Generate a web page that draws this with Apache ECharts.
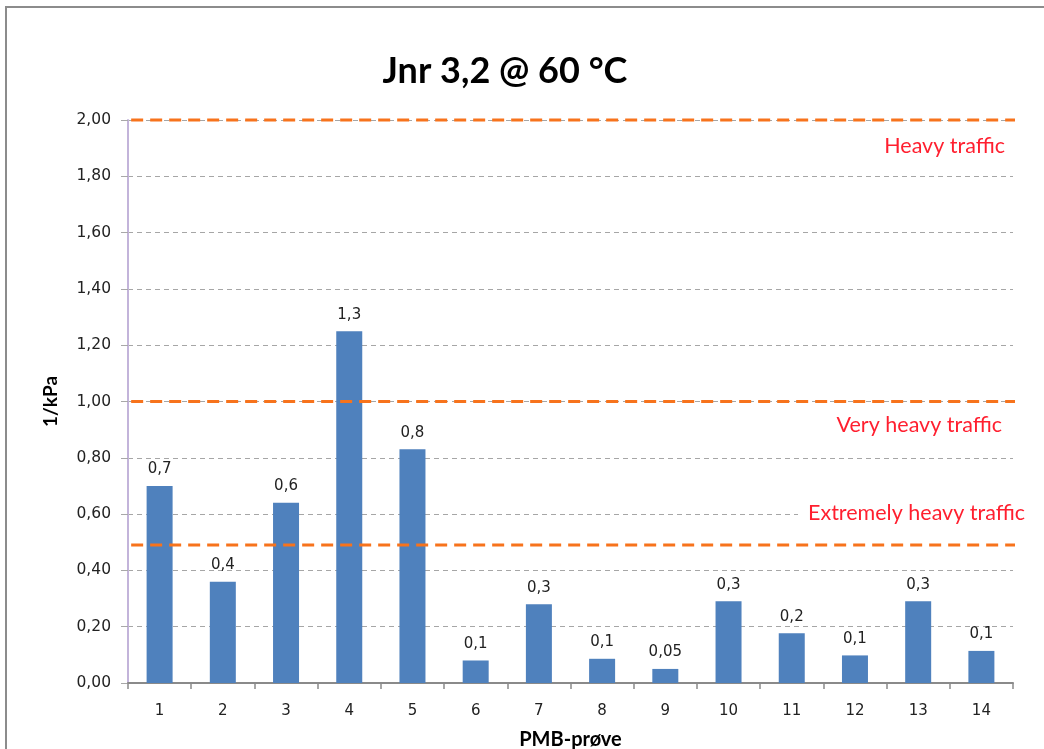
<!DOCTYPE html>
<html>
<head>
<meta charset="utf-8">
<style>
  html, body { margin: 0; padding: 0; background: #fff; }
  #chart { width: 1044px; height: 749px; }
</style>
<script src="https://cdn.jsdelivr.net/npm/echarts@6/dist/echarts.min.js"></script>
</head>
<body>
<div id="chart"></div>
<script>
// PMB sample numbers on the category axis
const samples = ['1', '2', '3', '4', '5', '6', '7', '8', '9', '10', '11', '12', '13', '14'];
// Jnr 3.2 at 60 °C, 1/kPa
const jnrValues = [0.70, 0.36, 0.64, 1.25, 0.83, 0.08, 0.28, 0.086, 0.05, 0.29, 0.177, 0.098, 0.29, 0.114];
// traffic class limits, 1/kPa
const limitValues = [2.0, 1.0, 0.49];
const limitNames = ['Heavy traffic', 'Very heavy traffic', 'Extremely heavy traffic'];
// value axis ticks
const yTicks = [0, 0.2, 0.4, 0.6, 0.8, 1.0, 1.2, 1.4, 1.6, 1.8, 2.0];

const comma = s => s.replace('.', ',');
const barLabel = v => comma(v < 0.06 ? v.toFixed(2) : v.toFixed(1));

const chart = echarts.init(document.getElementById('chart'), null, { renderer: 'canvas' });

const sansUI = '"DejaVu Sans", Verdana, sans-serif';
const sansTitle = 'Lato, "Open Sans", sans-serif';
const orange = '#f7731c';

// one dashed line per traffic class limit, on a hidden numeric x axis
const limitSeries = limitValues.map((v, i) => ({
  name: limitNames[i],
  type: 'line',
  xAxisIndex: 1,
  yAxisIndex: 0,
  data: [[0.05, v], [14.14, v]],
  symbol: 'none',
  clip: false,
  silent: true,
  z: 5,
  lineStyle: { color: orange, width: 3, type: [12, 7] }
}));

// class names drawn at the right end of the plot
const labelPlaces = [
  { x: 1005, y: 146 },
  { x: 1002, y: 425 },
  { x: 1025, y: 513 }
];

chart.setOption({
  animation: false,
  backgroundColor: '#ffffff',
  title: {
    text: 'Jnr 3,2 @ 60 °C',
    left: 500,
    textAlign: 'center',
    top: 48,
    textStyle: { fontFamily: sansTitle, fontSize: 36, fontWeight: 'bold', color: '#000' }
  },
  grid: { left: 128, right: 31, top: 120, bottom: 66, containLabel: false, outerBoundsMode: 'none' },
  xAxis: [
    {
      type: 'category',
      data: samples,
      name: 'PMB-prøve',
      nameLocation: 'middle',
      nameGap: 47,
      nameTextStyle: { fontFamily: sansTitle, fontSize: 20, fontWeight: 'bold', color: '#000' },
      axisLine: { lineStyle: { color: '#8a8a8a', width: 2 } },
      axisTick: { show: true, length: 6, lineStyle: { color: '#8a8a8a', width: 1.5 } },
      axisLabel: { fontFamily: sansUI, fontSize: 15, color: '#222', margin: 21 },
      splitLine: { show: false }
    },
    {
      type: 'value',
      min: 0,
      max: 14,
      show: false
    }
  ],
  yAxis: {
    type: 'value',
    min: 0,
    max: 2,
    interval: 0.2,
    name: '1/kPa',
    nameLocation: 'middle',
    nameGap: 68,
    nameRotate: 90,
    nameTextStyle: { fontFamily: sansTitle, fontSize: 19, fontWeight: 'bold', color: '#000' },
    axisLine: { show: true, lineStyle: { color: '#c3b4da', width: 2 } },
    axisTick: { show: true, length: 7, lineStyle: { color: '#a8a8a8', width: 1 } },
    axisLabel: {
      fontFamily: sansUI, fontSize: 15.5, color: '#222', margin: 17,
      formatter: v => comma(v.toFixed(2))
    },
    splitLine: { show: true, lineStyle: { color: '#a6a6a6', width: 1, type: [5, 4] } }
  },
  series: [
    {
      name: 'Jnr 3,2',
      type: 'bar',
      data: jnrValues,
      barWidth: 26,
      z: 3,
      itemStyle: { color: '#4f81bd' },
      label: {
        show: true,
        position: 'top',
        distance: 9,
        fontFamily: sansUI,
        fontSize: 15,
        color: '#222',
        formatter: p => barLabel(p.value)
      }
    },
    ...limitSeries
  ],
  graphic: [
    {
      type: 'rect',
      silent: true,
      z: -1,
      shape: { x: 6, y: 7, width: 1100, height: 800 },
      style: { fill: 'none', stroke: '#8c8c8c', lineWidth: 2 }
    },
    ...limitNames.map((t, i) => ({
      type: 'text',
      silent: true,
      z: 10,
      x: labelPlaces[i].x,
      y: labelPlaces[i].y,
      style: {
        text: t,
        fill: '#ff1f2f',
        font: '21.5px ' + sansTitle,
        align: 'right',
        verticalAlign: 'middle',
        backgroundColor: '#ffffff',
        padding: [2, 0, 2, 10]
      }
    }))
  ]
});
</script>
</body>
</html>
